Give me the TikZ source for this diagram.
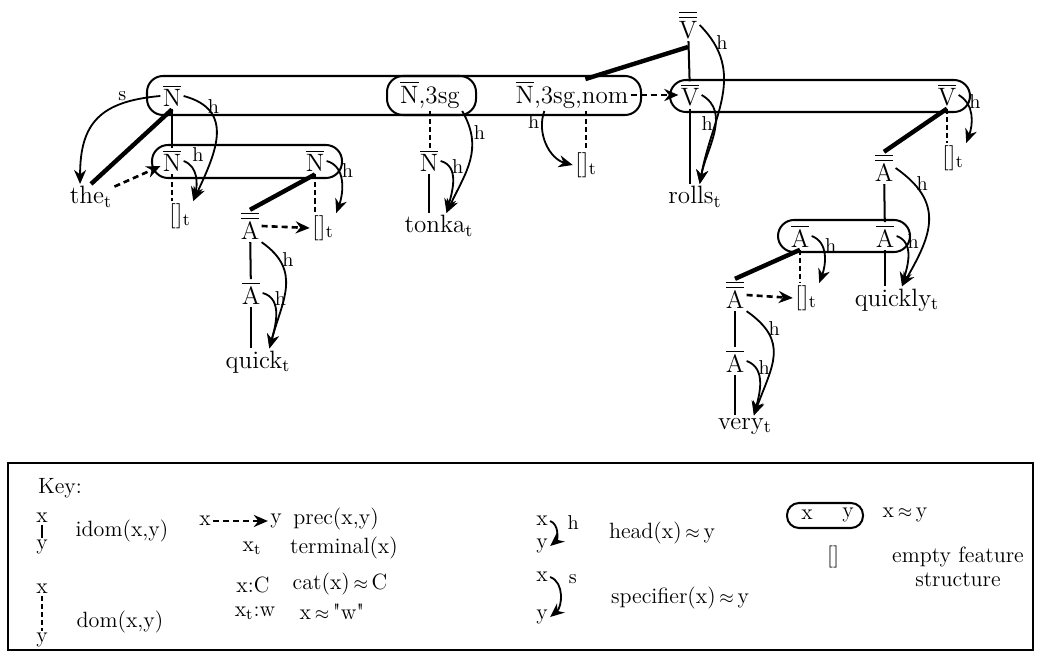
\documentclass[tikz,border=0pt]{standalone}
\usepackage{amsmath}
\usepackage{tikz}
\usetikzlibrary{arrows.meta,calc}

\newcommand{\onebar}[1]{$\overline{\mbox{#1}}$}
\newcommand{\twobar}[1]{$\overline{\overline{\mbox{#1}}}$}
\newcommand{\term}[1]{#1\textsubscript{t}}
\newcommand{\simto}{\,{\small$\approx$}\,}

\tikzset{
  idomline/.style={line width=1pt},
  thickline/.style={line width=2.2pt},
  domline/.style={line width=1.4pt,dash pattern=on 2.5pt off 1.5pt},
  precarrow/.style={line width=1.3pt,dash pattern=on 3pt off 2pt,-{Stealth[length=7pt,width=6pt]}},
  headarrow/.style={line width=0.9pt,-{Stealth[length=7pt,width=6pt]}},
  hlabel/.style={inner sep=1pt,font=\fontsize{10}{12}\selectfont},
  keytext/.style={font=\fontsize{11}{13}\selectfont},
  pill/.style={line width=1pt,rounded corners=#1},
  pill/.default=8pt,
  keyframe/.style={line width=1.2pt}
}

\begin{document}
\begin{tikzpicture}[x=0.0175cm,y=-0.0175cm,
  every node/.style={inner sep=1pt,font=\fontsize{12.5}{14}\selectfont}]
	\useasboundingbox (0,0) rectangle (1041,655);
	% boxes
	\draw[pill] (147,76) rectangle (641,115);
	\draw[pill] (387,76) rectangle (476,115);
	\draw[pill] (670,80) rectangle (970,112);
	\draw[pill] (152,145) rectangle (342,178);
	\draw[pill] (778,220) rectangle (910,252);
	% top row
	\node (vbb) at (688,25) {\twobar{V}};
	\node (nb1) at (172,96) {\onebar{N}};
	\node (n3sg) at (430,95) {\onebar{N},3sg};
	\node (nom) at (572,95) {\onebar{N},3sg,nom};
	\node (vb1) at (690,95) {\onebar{V}};
	\node (vb2) at (947,95) {\onebar{V}};
	\coordinate (vjoin) at (688,47);
	% second row
	\node (nb2) at (172,161) {\onebar{N}};
	\node (nb3) at (315,161) {\onebar{N}};
	\node (the) at (91,197) {\term{the}};
	\node (e1) at (180,216) {\term{[]}};
	\node (nb4) at (429,161) {\onebar{N}};
	\node (e3) at (586,165) {\term{[]}};
	\node (rolls) at (695,197) {\term{rolls}};
	\node (e4) at (953,158) {\term{[]}};
	\node (abb2) at (884,168) {\twobar{A}};
	% lower rows
	\node (abb1) at (250,226) {\twobar{A}};
	\node (e2) at (323,228) {\term{[]}};
	\node (tonka) at (439,226) {\term{tonka}};
	\node (ab2) at (800,236) {\onebar{A}};
	\node (ab3) at (885,236) {\onebar{A}};
	\node (abb3) at (735,295) {\twobar{A}};
	\node (e5) at (806,298) {\term{[]}};
	\node (quickly) at (897,300) {\term{quickly}};
	\node (ab1) at (251,293) {\onebar{A}};
	\node (ab4) at (735,361) {\onebar{A}};
	\node (quick) at (258,362) {\term{quick}};
	\node (very) at (745,426) {\term{very}};

	% immediate dominance
	\draw[idomline] (nb1) -- (nb2);
	\draw[idomline] (vbb) -- (vb1);
	\draw[idomline] (vb1) -- (vb1 |- rolls.north);
	\draw[idomline] (abb1) -- (ab1);
	\draw[idomline] (ab1) -- (ab1 |- quick.north);
	\draw[idomline] (nb4) -- (nb4 |- tonka.north);
	\draw[idomline] (abb2) -- (ab3);
	\draw[idomline] (ab3) -- (ab3 |- quickly.north);
	\draw[idomline] (abb3) -- (ab4);
	\draw[idomline] (ab4) -- (ab4 |- very.north);
	% specifier links
	\draw[thickline] (nb1.south) -- (the.north);
	\draw[thickline] (vjoin) -- (nom.50);
	\draw[thickline] (nb3.south) -- (abb1.north);
	\draw[thickline] (vb2.south) -- (abb2.north);
	\draw[thickline] (ab2.south) -- (abb3.north);
	% dominance
	\draw[domline] (nb2) -- (nb2 |- e1.north);
	\draw[domline] (nb3) -- (nb3 |- e2.north);
	\draw[domline] (n3sg) -- (n3sg |- nb4.north);
	\draw[domline] (e3.north |- nom.south) -- (e3.north);
	\draw[domline] (vb2) -- (vb2 |- e4.north);
	\draw[domline] (ab2) -- (ab2 |- e5.north);
	% precedence
	\draw[precarrow] (the) -- (nb2);
	\draw[precarrow] (abb1.east) -- (e2.west);
	\draw[precarrow] (nom.east) -- (vb1.west);
	\draw[precarrow] (abb3.east) -- (e5.west);
	% heads
	\draw[headarrow] (nb1.west) to[out=185,in=90,looseness=1.3] node[hlabel,pos=0.25,above] {s} (the.130);
	\draw[headarrow] (nb1.east) to[out=-15,in=65,looseness=1.3] node[hlabel,pos=0.18,right] {h} (e1.north east);
	\draw[headarrow] (nb2.east) to[out=-20,in=75] node[hlabel,pos=0.15,above right] {h} (e1.north east);
	\draw[headarrow] (nb3.east) to[out=-15,in=70] node[hlabel,pos=0.3,right] {h} (e2.north east);
	\draw[headarrow] (abb1.south east) to[out=-35,in=75,looseness=1.2] node[hlabel,pos=0.2,right] {h} (quick.50);
	\draw[headarrow] (ab1.east) to[out=-15,in=75] node[hlabel,pos=0.2,right] {h} (quick.50);
	\draw[headarrow] (n3sg.south east) to[out=-60,in=65,looseness=1.1] node[hlabel,pos=0.2,right] {h} (tonka.60);
	\draw[headarrow] (nb4.east) to[out=-15,in=75] node[hlabel,pos=0.2,right] {h} (tonka.60);
	\draw[headarrow] (nom.-150) to[out=-110,in=165] node[hlabel,pos=0.15,left] {h} (e3.west);
	\draw[headarrow] (vbb.east) to[out=-45,in=80,looseness=1.1] node[hlabel,pos=0.12,right] {h} (rolls.70);
	\draw[headarrow] (vb1.east) to[out=-30,in=80] node[hlabel,pos=0.4,left] {h} (rolls.70);
	\draw[headarrow] (vb2.east) to[out=-30,in=70] node[hlabel,pos=0.2,right] {h} (e4.north east);
	\draw[headarrow] (abb2.east) to[out=-35,in=60,looseness=1.3] node[hlabel,pos=0.15,right] {h} (quickly.70);
	\draw[headarrow] (ab3.east) to[out=-20,in=75] node[hlabel,pos=0.2,right] {h} (quickly.70);
	\draw[headarrow] (ab2.east) to[out=-20,in=70] node[hlabel,pos=0.3,right] {h} (e5.north east);
	\draw[headarrow] (abb3.south east) to[out=-35,in=70,looseness=1.3] node[hlabel,pos=0.2,right] {h} (very.50);
	\draw[headarrow] (ab4.east) to[out=-20,in=75] node[hlabel,pos=0.2,right] {h} (very.50);

	% key
	\draw[keyframe] (8,463) rectangle (1033,650);
	\begin{scope}[every node/.style={inner sep=1pt,keytext}]
	\node (keyt) at (60,488) {Key:};
	\node (kx1) at (42,518) {x};
	\node (ky1) at (42,547) {y};
	\draw[idomline] (kx1) -- (ky1);
	\node (kidom) at (122,531) {idom(x,y)};
	\node (kx2) at (42,589) {x};
	\node (ky2) at (42,640) {y};
	\draw[domline] (kx2) -- (ky2);
	\node (kdom) at (120,622) {dom(x,y)};
	\node (kx3) at (205,521) {x};
	\node (ky3) at (276,521) {y};
	\draw[precarrow] (kx3) -- (ky3);
	\node (kprec) at (336,519) {prec(x,y)};
	\node (kxt) at (252,548) {\term{x}};
	\node (kterm) at (344,548) {terminal(x)};
	\node (kxc) at (253,585) {x:C};
	\node (kcat) at (340,584) {cat(x)\simto C};
	\node (kxw) at (255,613) {\term{x}:w};
	\node (kw) at (332,612) {x\simto\textquotedbl w\textquotedbl};
	\node (kx4) at (542,521) {x};
	\node (ky4) at (542,546) {y};
	\draw[headarrow] (kx4.east) to[out=-20,in=40] node[hlabel,pos=0.1,right=6pt] {h} (ky4.east);
	\node (khead) at (662,533) {head(x)\simto y};
	\node (kx5) at (542,577) {x};
	\node (ky5) at (542,617) {y};
	\draw[headarrow] (kx5.east) to[out=-20,in=40] node[hlabel,pos=0.1,right=6pt] {s} (ky5.east);
	\node (kspec) at (680,598) {specifier(x)\simto y};
	\draw[pill=6pt] (787,503) rectangle (863,528);
	\node (kx6) at (807,515) {x};
	\node (ky6) at (848,515) {y};
	\node (keq) at (905,515) {x\simto y};
	\node (kempty) at (833,557) {[]};
	\node (kfeat) at (958,557) {empty feature};
	\node (kstruct) at (958,580) {structure};
	\end{scope}
\end{tikzpicture}
\end{document}
